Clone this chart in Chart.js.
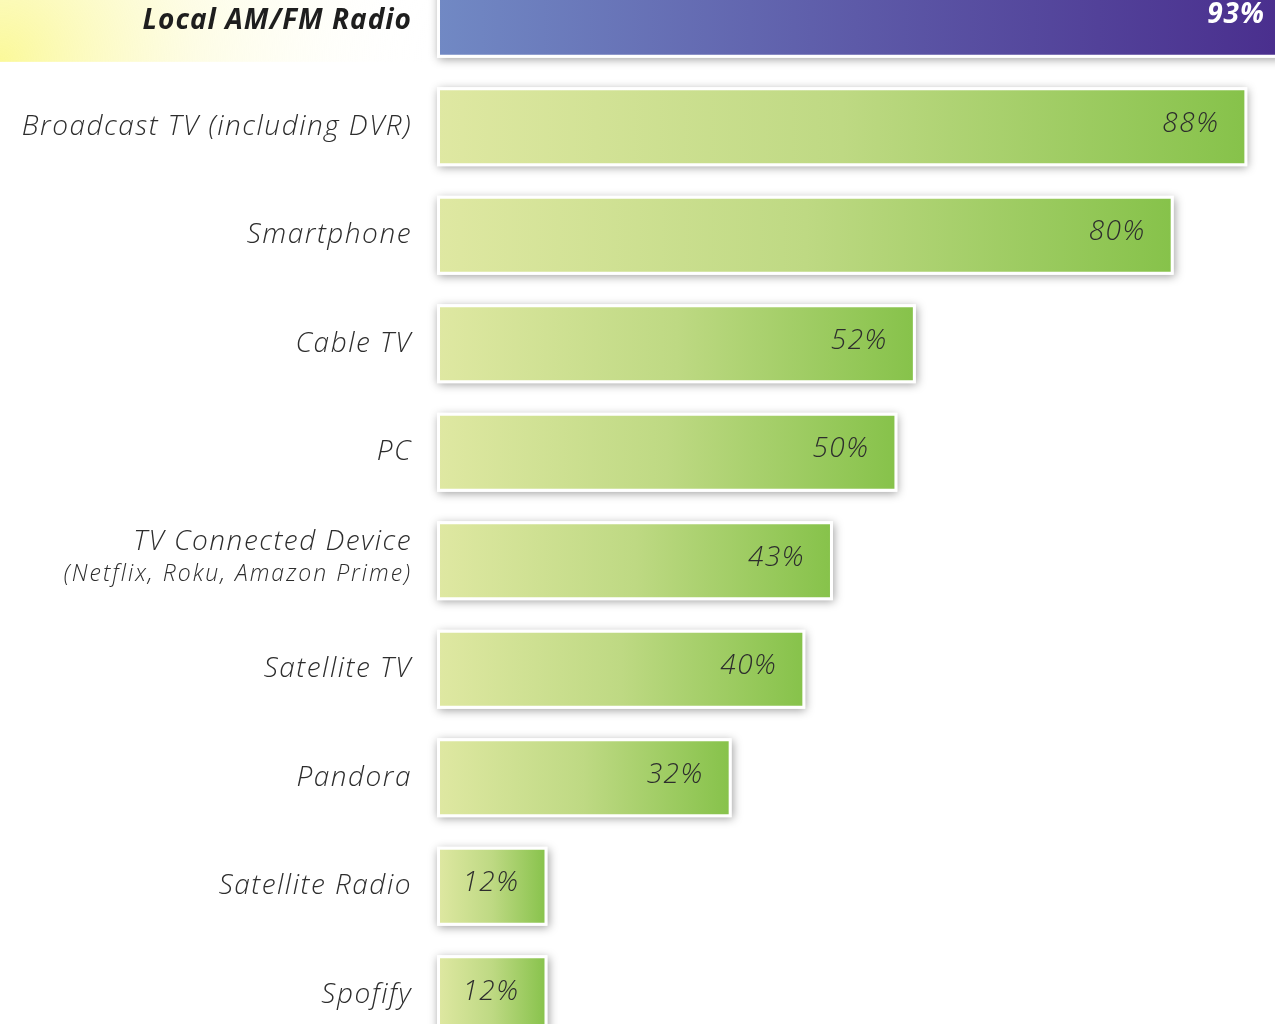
<!DOCTYPE html>
<html>
<head>
<meta charset="utf-8">
<script src="https://cdn.jsdelivr.net/npm/chart.js@4.4.1/dist/chart.umd.min.js"></script>
<style>
  html, body { margin: 0; padding: 0; background: #fff; overflow: hidden; }
  #wrap { position: absolute; left: 0; top: -36px; width: 1275px; height: 1085px; }
</style>
</head>
<body>
<div id="wrap"><canvas id="chart" width="1275" height="1085"></canvas></div>
<script>
// chart data
const categories = [
  'Local AM/FM Radio',
  'Broadcast TV (including DVR)',
  'Smartphone',
  'Cable TV',
  'PC',
  ['TV Connected Device', '(Netflix, Roku, Amazon Prime)'],
  'Satellite TV',
  'Pandora',
  'Satellite Radio',
  'Spofify'
];
const values = [93, 88, 80, 52, 50, 43, 40, 32, 12, 12];
const highlightIndex = 0;

const FONT = '"Open Sans", Lato, sans-serif';

function barFill(ctx) {
  const chart = ctx.chart;
  const area = chart.chartArea;
  if (!area) return '#b5d47a';
  const xs = chart.scales.x;
  const x0 = xs.getPixelForValue(0);
  const x1 = Math.min(xs.getPixelForValue(ctx.raw), area.right);
  const g = chart.ctx.createLinearGradient(x0, 0, x1, 0);
  if (ctx.dataIndex === highlightIndex) {
    g.addColorStop(0, '#7189c4');
    g.addColorStop(0.5, '#5d5aa8');
    g.addColorStop(1, '#4a2f8e');
  } else {
    g.addColorStop(0, '#dfe8a2');
    g.addColorStop(0.5, '#bed983');
    g.addColorStop(1, '#86c24a');
  }
  return g;
}

function setText(ctx, font, spacing) {
  ctx.font = font;
  if ('letterSpacing' in ctx) ctx.letterSpacing = spacing + 'px';
}

// yellow glow behind the highlighted label, bar shadows and all texts
const backdrop = {
  id: 'backdrop',
  beforeDatasetsDraw(chart) {
    const { ctx, chartArea } = chart;
    const meta = chart.getDatasetMeta(0);

    // glow
    const top = meta.data[highlightIndex];
    const bottom = top.y + top.height / 2 + 4;
    ctx.save();
    const rg = ctx.createRadialGradient(0, bottom, 0, 0, bottom, chartArea.left);
    rg.addColorStop(0, 'rgba(249,246,110,0.7)');
    rg.addColorStop(0.45, 'rgba(251,249,190,0.4)');
    rg.addColorStop(1, 'rgba(255,255,255,0)');
    ctx.fillStyle = rg;
    ctx.fillRect(0, 0, chartArea.left - 4, bottom);
    ctx.restore();

    // shadows
    ctx.save();
    ctx.beginPath();
    ctx.rect(chartArea.left - 20, chartArea.top, chartArea.right - chartArea.left + 20, chartArea.bottom - chartArea.top);
    ctx.clip();
    meta.data.forEach(el => {
      const p = el.getProps(['x', 'y', 'base', 'height'], true);
      ctx.shadowColor = 'rgba(0,0,0,0.38)';
      ctx.shadowBlur = 9;
      ctx.shadowOffsetX = 1;
      ctx.shadowOffsetY = 2;
      ctx.fillStyle = '#fff';
      ctx.fillRect(p.base, p.y - p.height / 2, p.x - p.base, p.height);
    });
    ctx.restore();
  },
  afterDatasetsDraw(chart) {
    const { ctx, chartArea } = chart;
    const meta = chart.getDatasetMeta(0);
    ctx.save();
    ctx.textBaseline = 'middle';
    ctx.textAlign = 'right';
    meta.data.forEach((el, i) => {
      const p = el.getProps(['x', 'y'], true);
      const end = Math.min(p.x, chartArea.right);
      // value label
      if (i === highlightIndex) {
        ctx.fillStyle = '#fff';
        setText(ctx, 'italic 700 28px ' + FONT, 1);
        ctx.fillText(values[i] + '%', end - 10, p.y - 3);
      } else {
        ctx.fillStyle = '#2d2d2d';
        setText(ctx, 'italic 300 28px ' + FONT, 1.5);
        ctx.fillText(values[i] + '%', end - 28, p.y - 3);
      }
      // category label
      const lab = categories[i];
      const lx = chartArea.left - 25;
      ctx.fillStyle = '#2d2d2d';
      if (Array.isArray(lab)) {
        setText(ctx, 'italic 300 28px ' + FONT, 1.5);
        ctx.fillText(lab[0], lx, p.y - 19);
        setText(ctx, 'italic 300 23px ' + FONT, 2);
        ctx.fillText(lab[1], lx, p.y + 14);
      } else if (i === highlightIndex) {
        ctx.fillStyle = '#1e1e1e';
        setText(ctx, 'italic 700 28px ' + FONT, 1);
        ctx.fillText(lab, lx, p.y + 3);
      } else {
        setText(ctx, 'italic 300 28px ' + FONT, 1.5);
        ctx.fillText(lab, lx, p.y);
      }
    });
    ctx.restore();
  }
};

new Chart(document.getElementById('chart'), {
  type: 'bar',
  data: {
    labels: categories,
    datasets: [{
      data: values,
      backgroundColor: barFill,
      borderColor: '#ffffff',
      borderWidth: 3,
      borderSkipped: false,
      barPercentage: 0.73,
      categoryPercentage: 1
    }]
  },
  options: {
    indexAxis: 'y',
    responsive: false,
    animation: false,
    layout: { padding: { left: 437, right: 0, top: 0, bottom: 0 } },
    plugins: { legend: { display: false }, tooltip: { enabled: false } },
    scales: {
      x: { display: false, min: 0, max: 91 },
      y: { display: false }
    }
  },
  plugins: [backdrop]
});
</script>
</body>
</html>
